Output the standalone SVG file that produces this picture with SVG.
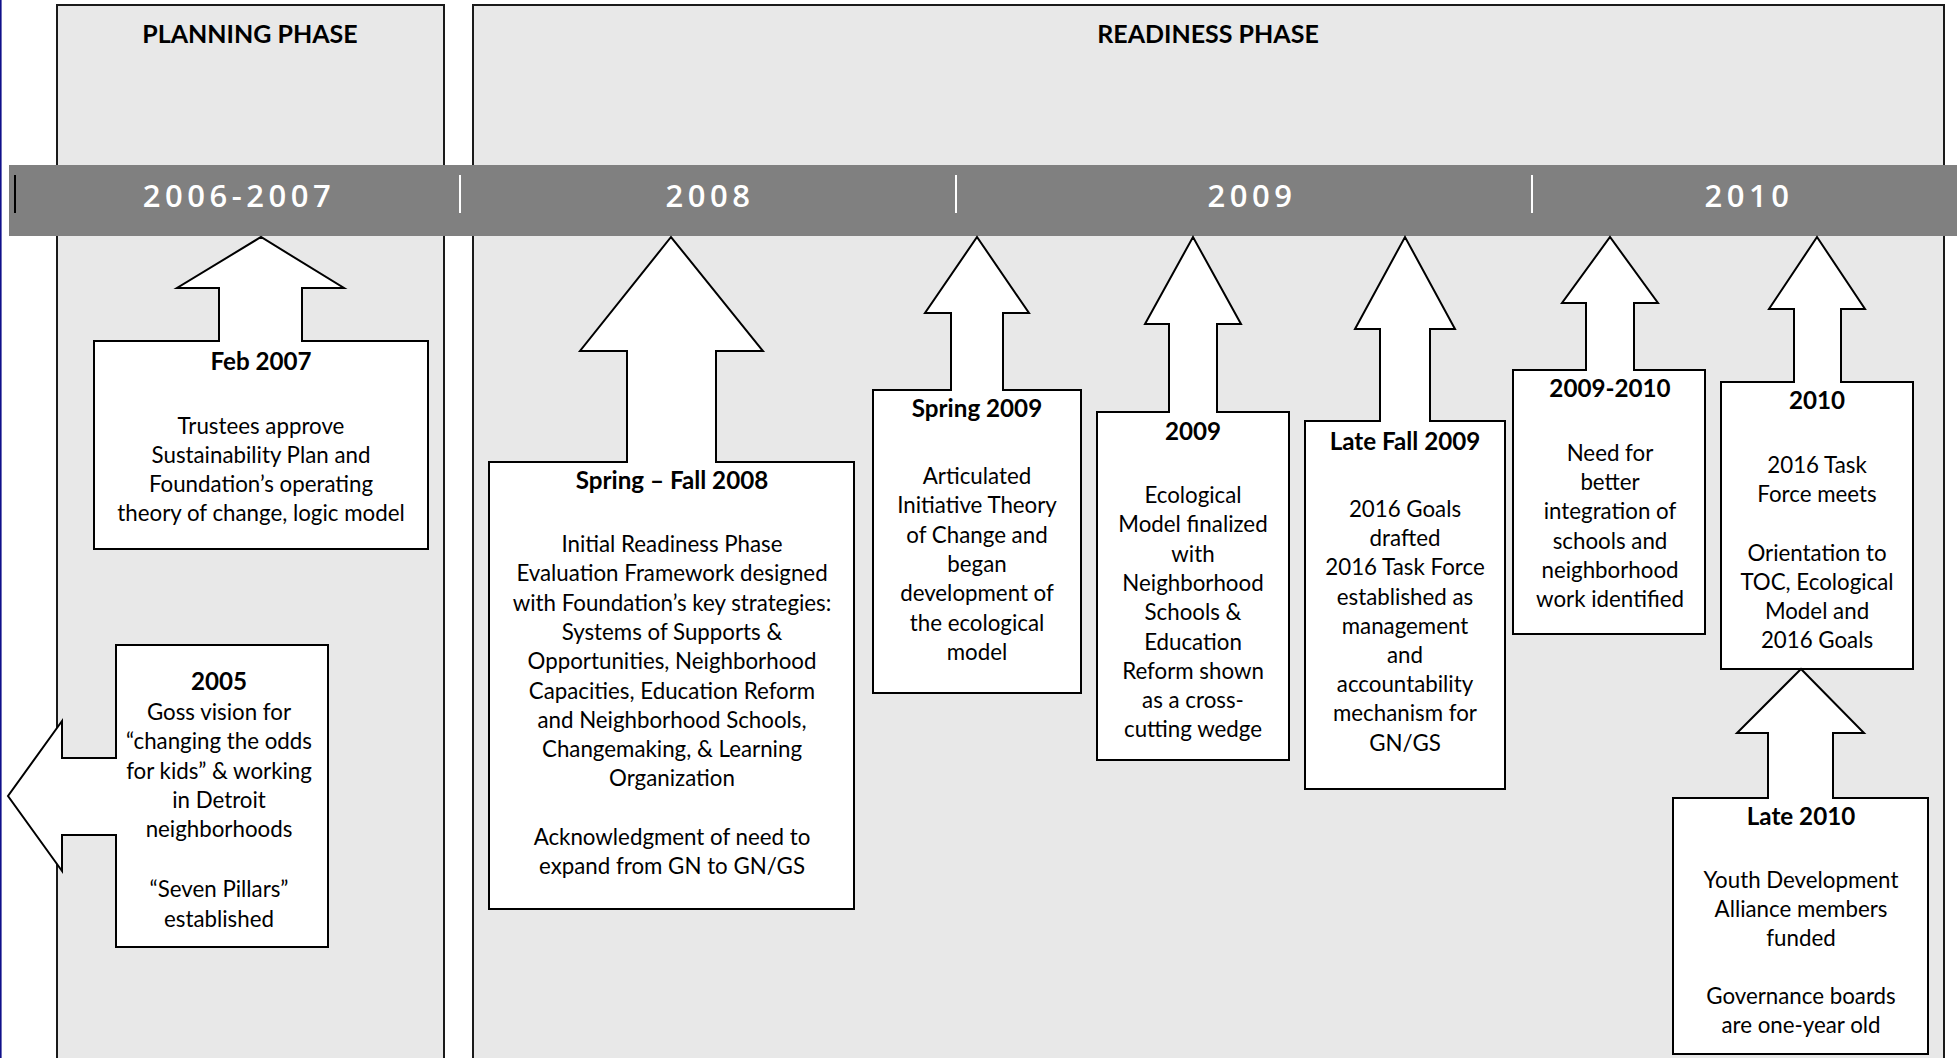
<svg xmlns="http://www.w3.org/2000/svg" width="1957" height="1058" viewBox="0 0 1957 1058">
<style>
.phase{fill:#e8e8e8;stroke:#1a1a1a;stroke-width:2}
.ptitle{font-family:Lato,"Liberation Sans",sans-serif;font-weight:bold;font-size:25px;fill:#000;text-anchor:middle}
.bar{fill:#808080}
.year{font-family:"Open Sans","Liberation Sans",sans-serif;font-weight:600;font-size:31px;fill:#fff;text-anchor:middle;letter-spacing:4.5px}
.div{stroke:#fff;stroke-width:2}
.shape{fill:#fff;stroke:#000;stroke-width:2;stroke-linejoin:miter}
.t{font-family:Lato,"Liberation Sans",sans-serif;font-weight:bold;font-size:24.2px;fill:#000;text-anchor:middle}
.b{font-family:Lato,"Liberation Sans",sans-serif;font-size:22.3px;fill:#000;text-anchor:middle}
</style>
<rect x="0" y="0" width="1957" height="1058" fill="#fff"/>
<rect x="0" y="0" width="1.6" height="1058" fill="#10108a"/>
<g id="planning-phase">
<rect class="phase" x="57" y="5" width="387" height="1070"/>
<text class="ptitle" x="250" y="43">PLANNING PHASE</text>
</g>
<g id="readiness-phase">
<rect class="phase" x="473" y="5" width="1471" height="1070"/>
<text class="ptitle" x="1208" y="43">READINESS PHASE</text>
</g>
<g id="timeline">
<rect class="bar" x="9" y="165" width="1948" height="71"/>
<line x1="15" y1="175" x2="15" y2="213" stroke="#000" stroke-width="2"/>
<line class="div" x1="460" y1="175" x2="460" y2="213"/>
<line class="div" x1="956" y1="175" x2="956" y2="213"/>
<line class="div" x1="1532" y1="175" x2="1532" y2="213"/>
<text class="year" x="239" y="207">2006-2007</text>
<text class="year" x="710" y="207">2008</text>
<text class="year" x="1252" y="207">2009</text>
<text class="year" x="1749" y="207">2010</text>
</g>
<g id="connectors"></g>
<g id="node-2005">
<path class="shape" d="M116,645 H328 V947 H116 V835 H62 V871 L8,796 L62,721 V758 H116 Z"/>
<text class="t" x="219" y="690">2005</text>
<text class="b" x="219" y="720">Goss vision for<tspan x="219" dy="29.3">“changing the odds</tspan><tspan x="219" dy="29.3">for kids” &amp; working</tspan><tspan x="219" dy="29.3">in Detroit</tspan><tspan x="219" dy="29.3">neighborhoods</tspan><tspan x="219" dy="60">“Seven Pillars”</tspan><tspan x="219" dy="29.3">established</tspan></text>
</g>
<g id="node-feb2007">
<path class="shape" d="M94,341 H219 V288 H177 L261,237 L344,288 H302 V341 H428 V549 H94 Z"/>
<text class="t" x="261" y="370">Feb 2007</text>
<text class="b" x="261" y="434">Trustees approve<tspan x="261" dy="29">Sustainability Plan and</tspan><tspan x="261" dy="29">Foundation’s operating</tspan><tspan x="261" dy="29">theory of change, logic model</tspan></text>
</g>
<g id="node-spring-fall-2008">
<path class="shape" d="M489,462 H627 V351 H580 L671,237 L763,351 H716 V462 H854 V909 H489 Z"/>
<text class="t" x="672" y="489">Spring – Fall 2008</text>
<text class="b" x="672" y="552">Initial Readiness Phase<tspan x="672" dy="29.3">Evaluation Framework designed</tspan><tspan x="672" dy="29.3">with Foundation’s key strategies:</tspan><tspan x="672" dy="29.3">Systems of Supports &amp;</tspan><tspan x="672" dy="29.3">Opportunities, Neighborhood</tspan><tspan x="672" dy="29.3">Capacities, Education Reform</tspan><tspan x="672" dy="29.3">and Neighborhood Schools,</tspan><tspan x="672" dy="29.3">Changemaking, &amp; Learning</tspan><tspan x="672" dy="29.3">Organization</tspan><tspan x="672" dy="58.6">Acknowledgment of need to</tspan><tspan x="672" dy="29.3">expand from GN to GN/GS</tspan></text>
</g>
<g id="node-spring-2009">
<path class="shape" d="M873,390 H951 V313 H925 L977,237 L1029,313 H1003 V390 H1081 V693 H873 Z"/>
<text class="t" x="977" y="417">Spring 2009</text>
<text class="b" x="977" y="484">Articulated<tspan x="977" dy="29.3">Initiative Theory</tspan><tspan x="977" dy="29.3">of Change and</tspan><tspan x="977" dy="29.3">began</tspan><tspan x="977" dy="29.3">development of</tspan><tspan x="977" dy="29.3">the ecological</tspan><tspan x="977" dy="29.3">model</tspan></text>
</g>
<g id="node-2009">
<path class="shape" d="M1097,412 H1169 V324 H1145 L1193,237 L1241,324 H1217 V412 H1289 V760 H1097 Z"/>
<text class="t" x="1193" y="440">2009</text>
<text class="b" x="1193" y="503">Ecological<tspan x="1193" dy="29.3">Model finalized</tspan><tspan x="1193" dy="29.3">with</tspan><tspan x="1193" dy="29.3">Neighborhood</tspan><tspan x="1193" dy="29.3">Schools &amp;</tspan><tspan x="1193" dy="29.3">Education</tspan><tspan x="1193" dy="29.3">Reform shown</tspan><tspan x="1193" dy="29.3">as a cross-</tspan><tspan x="1193" dy="29.3">cutting wedge</tspan></text>
</g>
<g id="node-late-fall-2009">
<path class="shape" d="M1305,421 H1380 V329 H1355 L1405,237 L1455,329 H1430 V421 H1505 V789 H1305 Z"/>
<text class="t" x="1405" y="450">Late Fall 2009</text>
<text class="b" x="1405" y="517">2016 Goals<tspan x="1405" dy="29.2">drafted</tspan><tspan x="1405" dy="29.2">2016 Task Force</tspan><tspan x="1405" dy="29.2">established as</tspan><tspan x="1405" dy="29.2">management</tspan><tspan x="1405" dy="29.2">and</tspan><tspan x="1405" dy="29.2">accountability</tspan><tspan x="1405" dy="29.2">mechanism for</tspan><tspan x="1405" dy="29.2">GN/GS</tspan></text>
</g>
<g id="node-2009-2010">
<path class="shape" d="M1513,370 H1586 V303 H1562 L1610,237 L1658,303 H1634 V370 H1705 V634 H1513 Z"/>
<text class="t" x="1610" y="397">2009-2010</text>
<text class="b" x="1610" y="461">Need for<tspan x="1610" dy="29.2">better</tspan><tspan x="1610" dy="29.2">integration of</tspan><tspan x="1610" dy="29.2">schools and</tspan><tspan x="1610" dy="29.2">neighborhood</tspan><tspan x="1610" dy="29.2">work identified</tspan></text>
</g>
<g id="node-2010">
<path class="shape" d="M1721,382 H1794 V309 H1769 L1817,237 L1865,309 H1841 V382 H1913 V669 H1721 Z"/>
<text class="t" x="1817" y="409">2010</text>
<text class="b" x="1817" y="473">2016 Task<tspan x="1817" dy="29">Force meets</tspan><tspan x="1817" dy="59">Orientation to</tspan><tspan x="1817" dy="29">TOC, Ecological</tspan><tspan x="1817" dy="29">Model and</tspan><tspan x="1817" dy="29">2016 Goals</tspan></text>
</g>
<g id="node-late-2010">
<path class="shape" d="M1673,798 H1768 V733 H1737 L1801,669 L1864,733 H1833 V798 H1928 V1054 H1673 Z"/>
<text class="t" x="1801" y="825">Late 2010</text>
<text class="b" x="1801" y="888">Youth Development<tspan x="1801" dy="29">Alliance members</tspan><tspan x="1801" dy="29">funded</tspan><tspan x="1801" dy="58">Governance boards</tspan><tspan x="1801" dy="29">are one-year old</tspan></text>
</g>
</svg>
